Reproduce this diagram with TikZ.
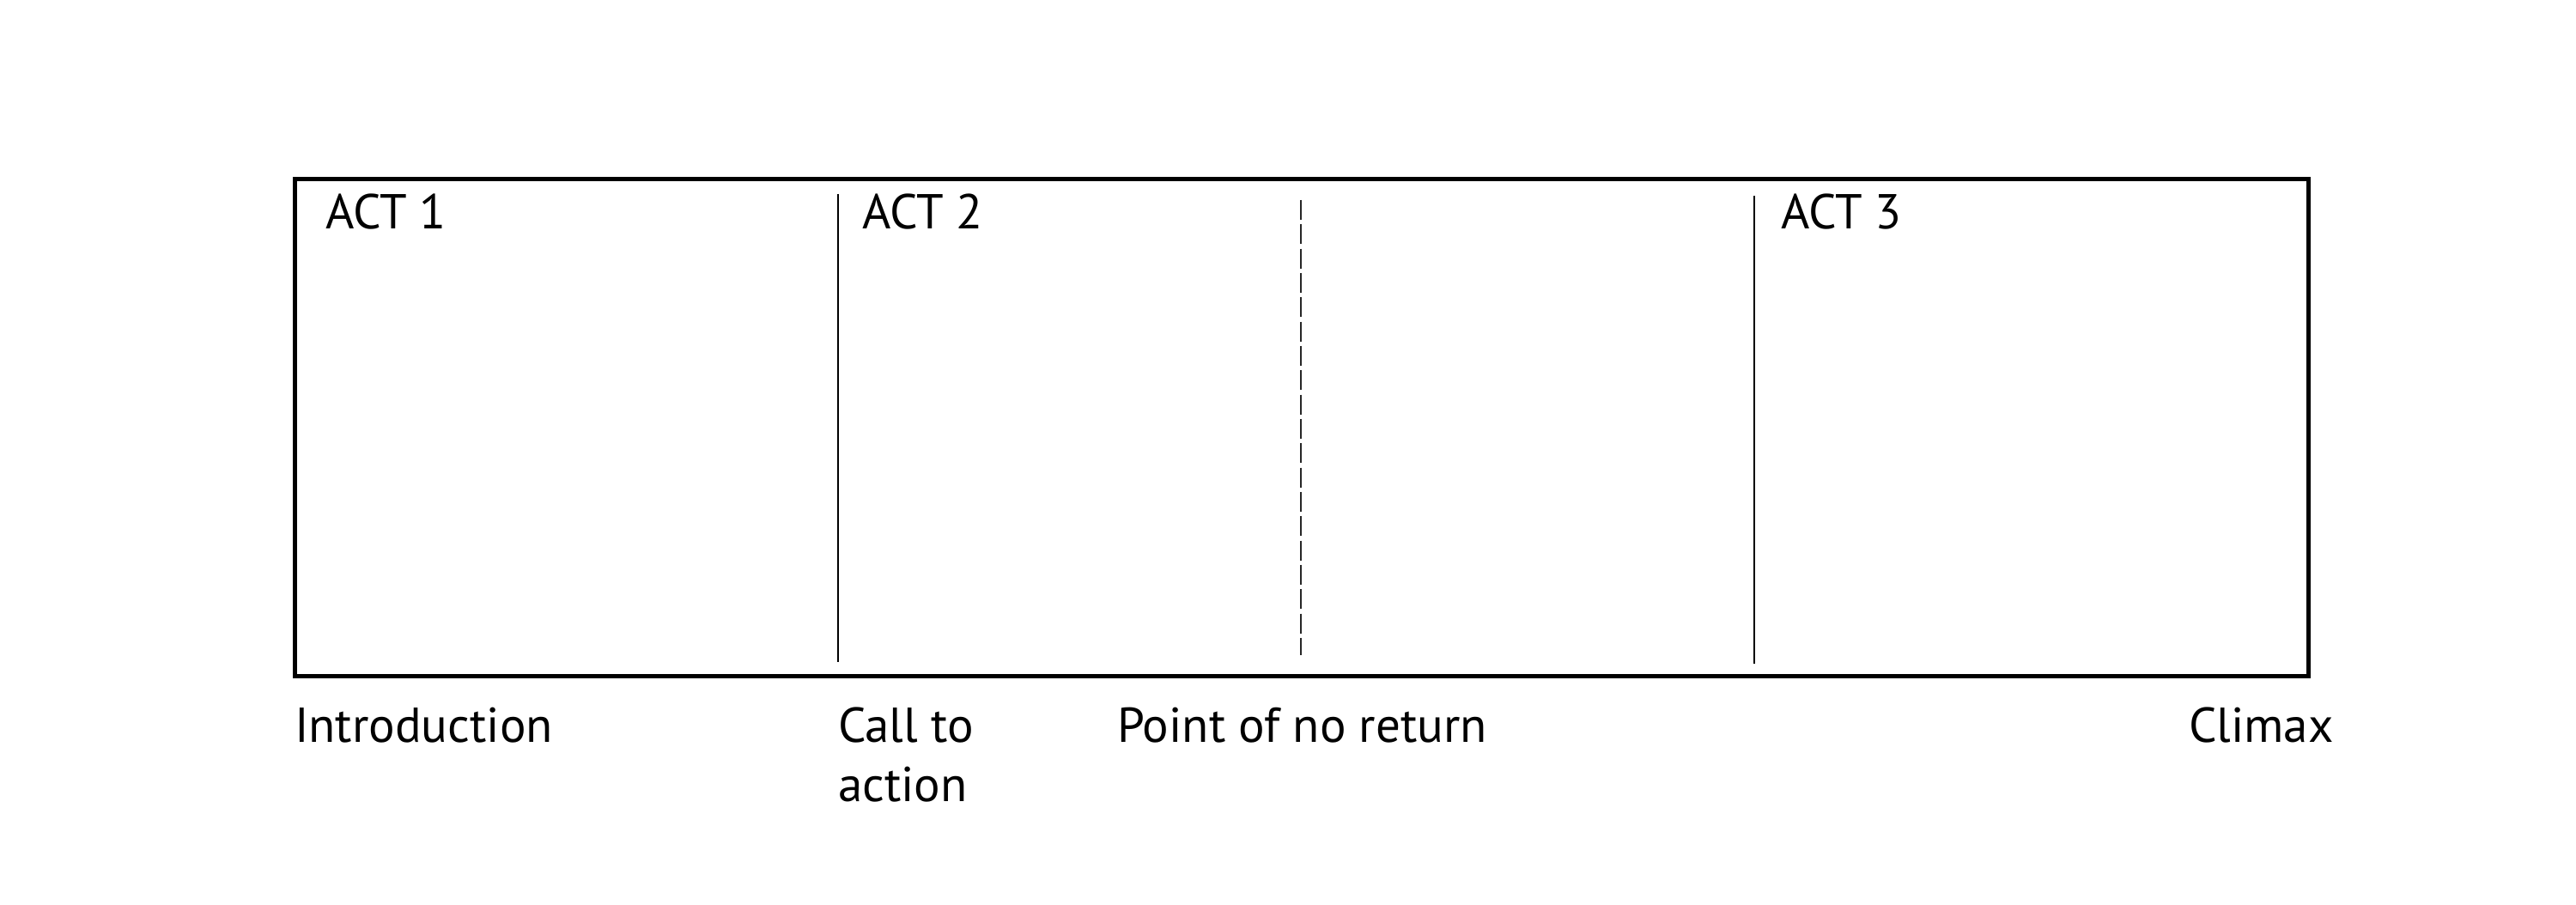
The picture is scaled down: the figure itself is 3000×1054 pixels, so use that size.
\documentclass[tikz,border=0pt]{standalone}
\usepackage{fontspec}
\setmainfont{PT Sans}
\begin{document}
\begin{tikzpicture}[x=0.24pt,y=-0.24pt,
  lbl/.style={anchor=base west,inner sep=0pt,outer sep=0pt,font=\fontsize{13.7}{16.4}\selectfont,align=left},
  frame/.style={draw=black,line width=1.2pt},
  divider/.style={draw=black,line width=0.6pt},
  dashdivider/.style={draw=black!85,line width=0.45pt,dash pattern=on 5.5pt off 1.3pt}]
\useasboundingbox (0,0) rectangle (3000,1054);
\coordinate (tl) at (343,208.5);
\coordinate (br) at (2688,787);
\draw[frame] (tl) rectangle (br);
% dividers
\coordinate (d1t) at (976,226); \coordinate (d1b) at (976,771);
\coordinate (d2t) at (1515,233); \coordinate (d2b) at (1515,763);
\coordinate (d3t) at (2043,228); \coordinate (d3b) at (2043,773);
\draw[divider] (d1t) -- (d1b);
\draw[dashdivider] (d2t) -- (d2b);
\draw[divider] (d3t) -- (d3b);
% act labels
\node[lbl] (act1) at (379,267) {ACT 1};
\node[lbl] (act2) at (1004,267) {ACT 2};
\node[lbl] (act3) at (2074,267) {ACT 3};
% bottom labels
\node[lbl] (intro) at (343,864) {Introduction};
\node[lbl] (call) at (976,933) {Call to\\action};
\node[lbl] (pnr) at (1301,864) {Point of no return};
\node[lbl] (climax) at (2549,864) {Climax};
\end{tikzpicture}
\end{document}
